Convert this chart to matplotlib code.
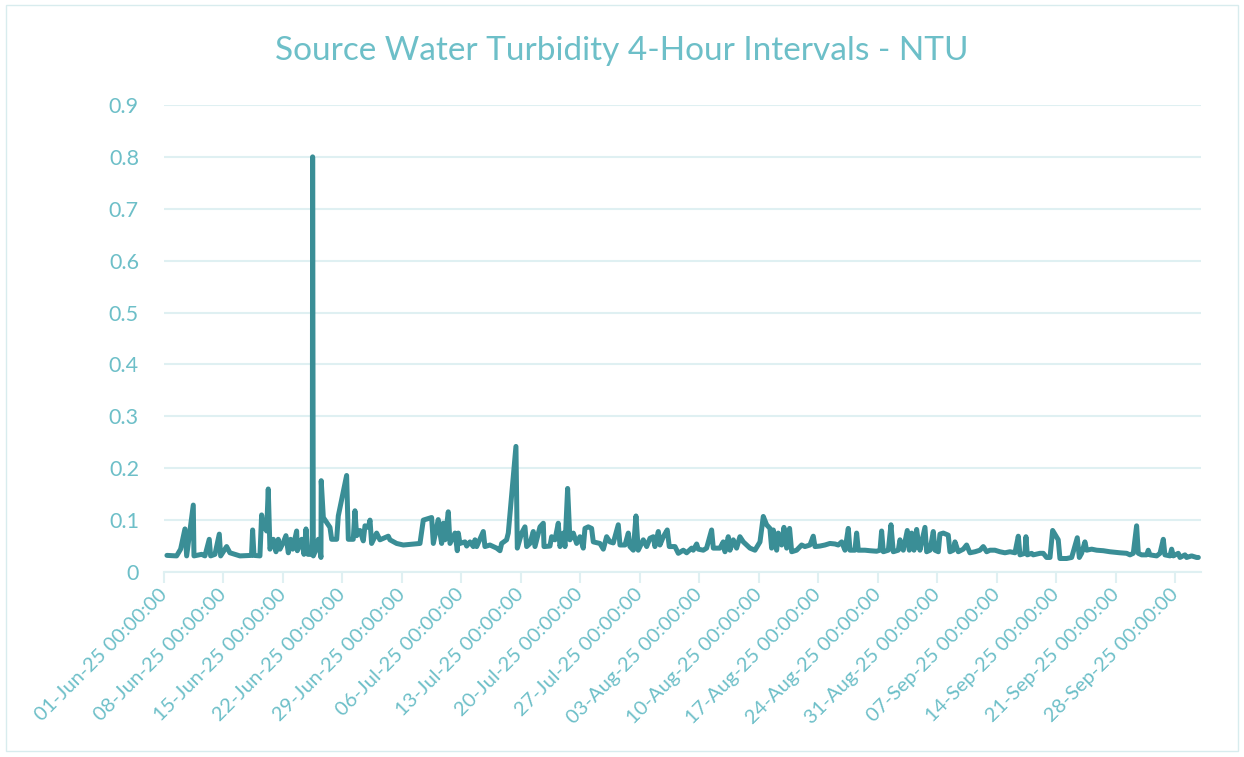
import numpy as np
import pandas as pd
import matplotlib
matplotlib.use("Agg")
import matplotlib.pyplot as plt
import matplotlib.dates as mdates
from matplotlib.patches import Rectangle

# days after 01-Jun-25 00:00 and turbidity in NTU
days = [0.35, 1.49, 1.96, 2.47, 2.67, 3.45, 3.53, 4.43, 4.82, 5.33, 5.49, 6.0, 6.51, 6.67,
        7.37, 7.76, 8.94, 10.3, 10.43, 10.59, 11.29, 11.49, 11.68, 12.08, 12.27, 12.47,
        12.86, 13.18, 13.45, 13.65, 14.04, 14.35, 14.63, 14.9, 15.14, 15.61, 15.69, 16.2,
        16.47, 16.71, 16.94, 17.45, 17.49, 17.57, 17.96, 18.16, 18.47, 18.5, 18.75, 19.53,
        19.73, 20.32, 20.51, 21.49, 21.69, 22.27, 22.47, 22.67, 23.06, 23.45, 23.65, 24.04,
        24.24, 24.43, 25.02, 25.41, 26.39, 26.59, 27.37, 28.16, 30.12, 30.51, 31.49, 31.69,
        32.27, 32.47, 32.67, 32.86, 33.06, 33.45, 33.65, 34.24, 34.51, 34.63, 34.82, 35.41,
        35.61, 36.0, 36.39, 36.59, 36.79, 37.57, 37.76, 38.35, 39.14, 39.53, 39.73, 40.31,
        40.51, 41.41, 41.57, 42.08, 42.47, 42.67, 43.06, 43.45, 43.65, 44.24, 44.63, 44.71,
        45.41, 45.61, 46.0, 46.39, 46.59, 46.98, 47.18, 47.49, 47.76, 48.16, 48.55, 48.94,
        49.33, 49.53, 49.92, 50.31, 50.51, 51.29, 51.69, 52.08, 52.47, 52.86, 53.45, 53.65,
        54.24, 54.63, 54.82, 55.22, 55.53, 55.8, 56.39, 56.79, 57.18, 57.57, 57.76, 58.16,
        58.35, 58.75, 59.21, 59.45, 60.12, 60.51, 61.1, 61.49, 62.08, 62.27, 62.67, 62.86,
        63.45, 63.84, 64.43, 64.63, 65.41, 65.8, 66.0, 66.39, 66.59, 66.98, 67.37, 67.76,
        68.16, 68.55, 68.94, 69.53, 70.12, 70.51, 70.9, 71.29, 71.49, 71.69, 72.08, 72.27,
        72.67, 72.94, 73.26, 73.6, 73.85, 74.43, 75.02, 75.41, 76.0, 76.39, 76.59, 77.18,
        77.76, 78.35, 78.94, 79.33, 79.73, 80.12, 80.51, 80.71, 81.29, 81.49, 81.69, 82.47,
        83.06, 83.84, 84.24, 84.43, 84.63, 85.22, 85.53, 85.8, 86.39, 86.59, 86.98, 87.45,
        87.69, 87.96, 88.24, 88.55, 88.75, 88.94, 89.53, 89.73, 90.12, 90.51, 90.71, 91.1,
        91.29, 91.69, 92.27, 92.47, 92.86, 93.06, 93.45, 94.04, 94.43, 94.82, 95.41, 96.0,
        96.39, 96.79, 97.18, 97.76, 98.35, 98.94, 99.53, 100.12, 100.51, 100.71, 101.29,
        101.41, 101.57, 102.08, 102.27, 103.06, 103.45, 103.84, 104.24, 104.55, 105.21,
        105.41, 106.2, 106.79, 107.45, 107.69, 107.96, 108.35, 108.55, 109.14, 109.73,
        110.51, 111.29, 112.47, 113.26, 113.65, 114.04, 114.43, 114.63, 115.02, 115.61,
        115.8, 116.0, 116.79, 117.18, 117.57, 117.76, 118.35, 118.55, 118.75, 119.33,
        119.53, 120.12, 120.31, 120.9, 121.49, 121.69]
ntu = [0.032, 0.031, 0.044, 0.083, 0.031, 0.129, 0.031, 0.034, 0.031, 0.063, 0.031, 0.034,
       0.073, 0.031, 0.049, 0.037, 0.031, 0.032, 0.081, 0.032, 0.031, 0.11, 0.09, 0.079,
       0.16, 0.044, 0.063, 0.039, 0.063, 0.044, 0.057, 0.07, 0.037, 0.063, 0.044, 0.079,
       0.041, 0.063, 0.034, 0.083, 0.034, 0.034, 0.80, 0.031, 0.046, 0.063, 0.028, 0.176,
       0.105, 0.086, 0.063, 0.063, 0.108, 0.186, 0.063, 0.063, 0.118, 0.07, 0.08, 0.06,
       0.089, 0.086, 0.10, 0.055, 0.075, 0.062, 0.069, 0.062, 0.055, 0.052, 0.055, 0.10,
       0.105, 0.055, 0.101, 0.075, 0.055, 0.094, 0.062, 0.116, 0.055, 0.075, 0.041, 0.075,
       0.055, 0.058, 0.050, 0.058, 0.049, 0.062, 0.049, 0.078, 0.049, 0.052, 0.046, 0.041,
       0.055, 0.062, 0.075, 0.242, 0.046, 0.075, 0.087, 0.049, 0.055, 0.078, 0.049, 0.087,
       0.094, 0.049, 0.05, 0.068, 0.062, 0.094, 0.049, 0.075, 0.049, 0.161, 0.062, 0.075,
       0.055, 0.068, 0.046, 0.084, 0.087, 0.084, 0.058, 0.055, 0.044, 0.068, 0.058, 0.056,
       0.091, 0.052, 0.052, 0.075, 0.049, 0.042, 0.108, 0.042, 0.062, 0.049, 0.065, 0.068,
       0.049, 0.078, 0.052, 0.068, 0.081, 0.049, 0.049, 0.036, 0.042, 0.037, 0.046, 0.042,
       0.054, 0.044, 0.042, 0.046, 0.081, 0.046, 0.046, 0.058, 0.039, 0.068, 0.042, 0.062,
       0.046, 0.068, 0.058, 0.052, 0.046, 0.042, 0.058, 0.107, 0.091, 0.084, 0.046, 0.081,
       0.042, 0.075, 0.052, 0.086, 0.046, 0.084, 0.039, 0.042, 0.052, 0.049, 0.052, 0.069,
       0.049, 0.05, 0.052, 0.055, 0.054, 0.052, 0.058, 0.042, 0.084, 0.042, 0.042, 0.075,
       0.042, 0.042, 0.041, 0.04, 0.042, 0.079, 0.039, 0.042, 0.091, 0.039, 0.042, 0.062,
       0.042, 0.08, 0.042, 0.075, 0.042, 0.082, 0.058, 0.042, 0.086, 0.039, 0.042, 0.078,
       0.042, 0.039, 0.073, 0.075, 0.071, 0.039, 0.042, 0.058, 0.039, 0.044, 0.052, 0.037,
       0.039, 0.042, 0.049, 0.039, 0.042, 0.042, 0.039, 0.037, 0.039, 0.037, 0.069, 0.033,
       0.036, 0.068, 0.033, 0.036, 0.033, 0.036, 0.036, 0.028, 0.028, 0.08, 0.062, 0.026,
       0.026, 0.028, 0.066, 0.028, 0.036, 0.058, 0.042, 0.044, 0.042, 0.041, 0.039, 0.037,
       0.036, 0.033, 0.036, 0.089, 0.036, 0.033, 0.033, 0.042, 0.033, 0.031, 0.036, 0.063,
       0.033, 0.031, 0.044, 0.031, 0.036, 0.028, 0.033, 0.028, 0.031, 0.028, 0.028]

start = pd.Timestamp("2025-06-01")
end = pd.Timestamp("2025-10-01")
times = start + pd.to_timedelta(days, unit="D")

text_c = "#6DBFC8"
line_c = "#3A8E96"
grid_c = "#DFF0F2"

plt.rcParams['font.family'] = ['Lato', 'DejaVu Sans']

fig = plt.figure(figsize=(12.44, 7.57), dpi=100)
ax = fig.add_axes([0.1318, 0.2444, 0.8336, 0.6169])

ax.plot(times, ntu, color=line_c, lw=3.6, solid_joinstyle='round', solid_capstyle='round')

ax.set_ylim(0, 0.9)
ax.set_yticks(np.arange(0, 0.91, 0.1))
ax.set_yticklabels(["0"] + ["%.1f" % v for v in np.arange(0.1, 0.91, 0.1)])
ax.set_xlim(start, end)
ax.set_xticks(pd.date_range("2025-06-01", "2025-09-28", freq="7D"))
ax.xaxis.set_major_formatter(mdates.DateFormatter("%d-%b-%y %H:%M:%S"))

ax.grid(axis='y', color=grid_c, lw=1.5)
ax.set_axisbelow(True)
for s in ['top', 'right', 'left']:
    ax.spines[s].set_visible(False)
ax.spines['bottom'].set_color(grid_c)
ax.spines['bottom'].set_linewidth(1.5)
ax.tick_params(axis='y', length=0, pad=18, labelsize=15.5, labelcolor=text_c)
ax.tick_params(axis='x', length=8, width=1.5, color=grid_c, pad=6, labelsize=14.5, labelcolor=text_c)
for lab in ax.get_xticklabels():
    lab.set_rotation(45)
    lab.set_ha('right')
    lab.set_va('center')
    lab.set_rotation_mode('anchor')

fig.text(0.5, 0.933, "Source Water Turbidity 4-Hour Intervals - NTU", ha='center', va='center',
         fontsize=24, color=text_c)

fig.patches.append(Rectangle((0.005, 0.008), 0.99, 0.985, transform=fig.transFigure,
                             fill=False, ec="#D8ECEE", lw=1))

fig.savefig("out.png", dpi=100)
